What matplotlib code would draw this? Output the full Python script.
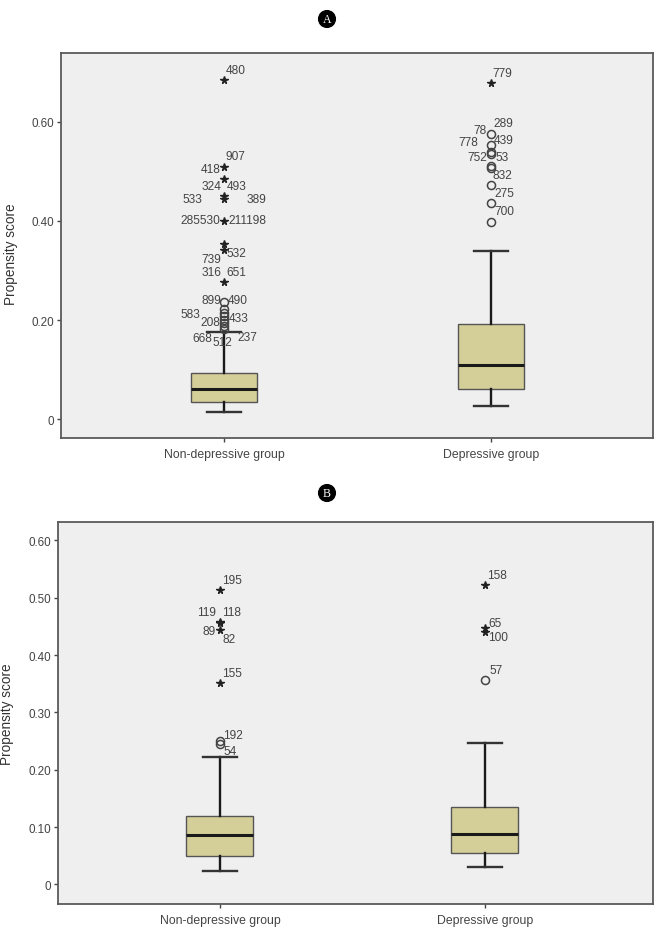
import matplotlib
matplotlib.use("Agg")
import matplotlib.pyplot as plt

plt.rcParams['font.family'] = ['Liberation Sans', 'DejaVu Sans']

groups = ["Non-depressive group", "Depressive group"]

# ---- panel A data ----
# q1, median, q3, lower whisker, upper whisker
a_box = [[0.035, 0.061, 0.093, 0.0135, 0.175],
         [0.0606, 0.110, 0.193, 0.026, 0.340]]
a_circles = [[0.236, 0.222, 0.215, 0.208, 0.200, 0.194, 0.188, 0.182],
             [0.576, 0.553, 0.539, 0.536, 0.510, 0.507, 0.473, 0.436, 0.397]]
a_stars = [[0.685, 0.508, 0.485, 0.451, 0.444, 0.400, 0.354, 0.342, 0.277],
           [0.678]]
a_text = [["480", "907", "418", "324", "493", "533", "389", "285530", "211198",
           "532", "739", "316", "651", "899", "490", "583", "208", "433",
           "668", "512", "237"],
          ["779", "289", "78", "778", "439", "752", "53", "832", "275", "700"]]
a_anchor = [[0.685, 0.508, 0.508, 0.485, 0.485, 0.444, 0.444, 0.400, 0.400,
             0.342, 0.342, 0.277, 0.277, 0.236, 0.236, 0.208, 0.208, 0.208,
             0.182, 0.182, 0.182],
            [0.678, 0.576, 0.576, 0.553, 0.553, 0.539, 0.539, 0.510, 0.473, 0.436]]
a_yticks = [0, 0.2, 0.4, 0.6]
a_yticklabels = ["0", "0.20", "0.40", "0.60"]

# ---- panel B data ----
b_box = [[0.0495, 0.0866, 0.120, 0.0244, 0.222],
         [0.0547, 0.088, 0.135, 0.031, 0.246]]
b_circles = [[0.251, 0.245],
             [0.357]]
b_stars = [[0.513, 0.458, 0.456, 0.444, 0.351],
           [0.522, 0.448, 0.441]]
b_text = [["195", "119", "118", "89", "82", "155", "192", "54"],
          ["158", "65", "100", "57"]]
b_anchor = [[0.513, 0.458, 0.458, 0.444, 0.444, 0.351, 0.251, 0.245],
            [0.522, 0.448, 0.441, 0.357]]
b_yticks = [0, 0.1, 0.2, 0.3, 0.4, 0.5, 0.6]
b_yticklabels = ["0", "0.10", "0.20", "0.30", "0.40", "0.50", "0.60"]

# ---- layout: label offsets in pixels (dx, dy down, alignment) ----
a_off = [[(2, -10, 'left'), (2, -11, 'left'), (-3, 1.5, 'right'), (-3, 7, 'right'),
          (3, 7, 'left'), (-22, 0, 'right'), (23, 0, 'left'), (-4, -1, 'right'),
          (4, -1, 'left'), (3, 3, 'left'), (-3, 9, 'right'), (-3, -10, 'right'),
          (2, -10, 'left'), (-3, -2.5, 'right'), (4, -2.5, 'left'),
          (-24, -2, 'right'), (-4, 6, 'right'), (5, 2, 'left'),
          (-12, 9, 'right'), (-11, 13, 'left'), (13, 8, 'left')],
         [(1, -10, 'left'), (2, -11, 'left'), (-4, -4, 'right'), (-13, -3, 'right'),
          (3, -5.5, 'left'), (-4, 4.5, 'right'), (5, 4.5, 'left'), (2, 8.5, 'left'),
          (3, 8, 'left'), (3, 8, 'left')]]
b_off = [[(2, -10.5, 'left'), (-4, -9.5, 'right'), (2, -9.5, 'left'), (-4, 1, 'right'),
          (3, 9, 'left'), (2, -10, 'left'), (3, -6, 'left'), (4, 7, 'left')],
         [(2, -10, 'left'), (3, -5, 'left'), (3, 5, 'left'), (5, -10, 'left')]]

txt_col = '#444444'


def draw_panel(ax, box, circles, stars, texts, anchors, offs, yticks, yticklabels,
               ylim, xlim, width):
    stats = []
    for b in box:
        stats.append(dict(q1=b[0], med=b[1], q3=b[2], whislo=b[3], whishi=b[4],
                          fliers=[]))
    ax.bxp(stats, positions=[1, 2], widths=width, patch_artist=True,
           showfliers=False,
           boxprops=dict(facecolor='#d4cf98', edgecolor='#555555', linewidth=1.0),
           medianprops=dict(color='#1a1a1a', linewidth=2.2),
           whiskerprops=dict(color='#1a1a1a', linewidth=1.7),
           capprops=dict(color='#333333', linewidth=1.7))
    for i in range(2):
        x = i + 1
        ax.plot([x] * len(circles[i]), circles[i], 'o', ms=5.8, mfc='none',
                mec='#444444', mew=1.1, zorder=4)
        ax.plot([x] * len(stars[i]), stars[i], '*', ms=5.5, color='#222222',
                zorder=4)
        for t, v, (dx, dy, ha) in zip(texts[i], anchors[i], offs[i]):
            ax.annotate(t, (x, v), xytext=(dx, -dy), textcoords='offset pixels',
                        ha=ha, va='center', fontsize=8.6, color=txt_col)
    ax.set_facecolor('#efefef')
    ax.set_xlim(*xlim)
    ax.set_ylim(*ylim)
    ax.set_xticks([1, 2])
    ax.set_xticklabels(groups, fontsize=8.8, color=txt_col)
    ax.set_yticks(yticks)
    ax.set_yticklabels(yticklabels, fontsize=8.4, color=txt_col)
    ax.tick_params(axis='both', direction='out', length=3, width=1,
                   color='#444444', pad=2)
    ax.tick_params(axis='x', pad=4)
    ax.set_ylabel("Propensity score", fontsize=9.8, color='#333333')
    for s in ax.spines.values():
        s.set_color('#5a5a5a')
        s.set_linewidth(1.3)


fig = plt.figure(figsize=(6.57, 9.29), dpi=100)

axA = fig.add_axes([61 / 657, 1 - 439 / 929, 592 / 657, 385 / 929])
draw_panel(axA, a_box, a_circles, a_stars, a_text, a_anchor, a_off,
           a_yticks, a_yticklabels, (-0.038, 0.739), (0.3895, 2.607), 0.25)
axA.yaxis.set_label_coords(-0.072, 0.48)

axB = fig.add_axes([58 / 657, 1 - 905 / 929, 595 / 657, 382 / 929])
draw_panel(axB, b_box, b_circles, b_stars, b_text, b_anchor, b_off,
           b_yticks, b_yticklabels, (-0.034, 0.632), (0.389, 2.634), 0.253)
axB.yaxis.set_label_coords(-0.074, 0.5)

for lab, yy in [("A", 1 - 20 / 929), ("B", 1 - 494 / 929)]:
    fig.text(327 / 657, yy, lab, ha='center', va='center', fontsize=8.5,
             family=['Liberation Serif', 'DejaVu Serif'], color='white',
             bbox=dict(boxstyle='circle,pad=0.2', fc='black', ec='black'))

fig.savefig("out.png", dpi=100)
